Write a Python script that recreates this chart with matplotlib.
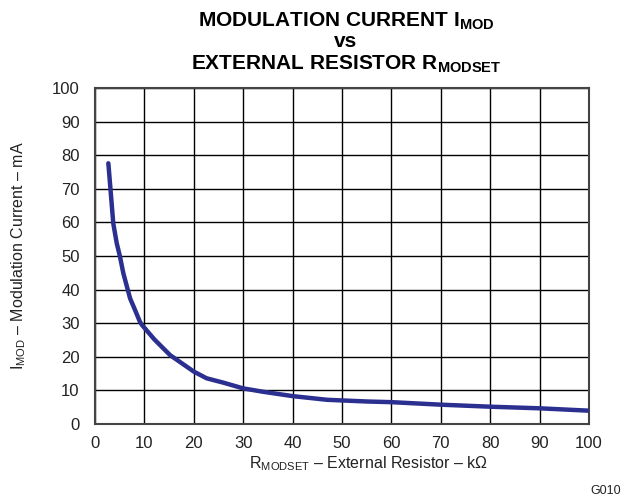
import matplotlib
matplotlib.use("Agg")
import matplotlib.pyplot as plt

plt.rcParams['font.family'] = ['Liberation Sans', 'DejaVu Sans']
plt.rcParams['mathtext.fontset'] = 'custom'
plt.rcParams['mathtext.rm'] = 'Liberation Sans'
plt.rcParams['mathtext.it'] = 'Liberation Sans'
plt.rcParams['mathtext.bf'] = 'Liberation Sans:bold'

R_kohm = [2.7, 3.15, 3.7, 4.4, 5.06, 5.73, 7.1, 8.0, 9.1, 9.5, 12, 15.2, 20, 22.6, 26, 30, 34, 40, 47, 55, 60, 70, 80, 90, 100]
I_mA = [77.6, 69.6, 59.7, 53.8, 49.8, 44.9, 37.4, 34.3, 30.4, 29.5, 25.2, 20.5, 15.6, 13.6, 12.3, 10.6, 9.6, 8.3, 7.2, 6.7, 6.5, 5.75, 5.15, 4.67, 3.96]
x_ticks = [0, 10, 20, 30, 40, 50, 60, 70, 80, 90, 100]
y_ticks = [0, 10, 20, 30, 40, 50, 60, 70, 80, 90, 100]

W, H = 629, 499
fig = plt.figure(figsize=(W/100, H/100), dpi=100)
ax = fig.add_axes([95/W, 1-424/H, (589-95)/W, (424-88)/H])
ax.plot(R_kohm, I_mA, color='#2b2f8f', lw=3.2, solid_capstyle='round', solid_joinstyle='round', zorder=3)
ax.set_xlim(0, 100)
ax.set_ylim(0, 100)
ax.set_xticks(x_ticks)
ax.set_yticks(y_ticks)
ax.grid(True, color='black', lw=1)
ax.tick_params(length=0, labelsize=12, colors='#222222')
ax.tick_params(axis='x', pad=9)
ax.tick_params(axis='y', pad=11)
for s in ax.spines.values():
    s.set_color('#444444')
    s.set_linewidth(1.5)

fig.text(368/W, 1-464/H, r'R$_{\mathrm{MODSET}}$ – External Resistor – kΩ', ha='center', va='center', fontsize=11.5, color='#222222')
fig.text(19/W, 1-256/H, r'I$_{\mathrm{MOD}}$ – Modulation Current – mA', ha='center', va='center', rotation=90, fontsize=11.5, color='#222222')

cx = 346 / W
fig.text(cx, 1-27/H, r'MODULATION CURRENT I$_{\mathbf{MOD}}$', ha='center', va='baseline', fontsize=15, fontweight='bold')
fig.text(cx, 1-47/H, 'vs', ha='center', va='baseline', fontsize=15, fontweight='bold')
fig.text(cx, 1-70/H, r'EXTERNAL RESISTOR R$_{\mathbf{MODSET}}$', ha='center', va='baseline', fontsize=15, fontweight='bold')
fig.text(606/W, 1-491/H, 'G010', ha='center', va='center', fontsize=9, color='#222222')

fig.savefig('out.png', dpi=100)
